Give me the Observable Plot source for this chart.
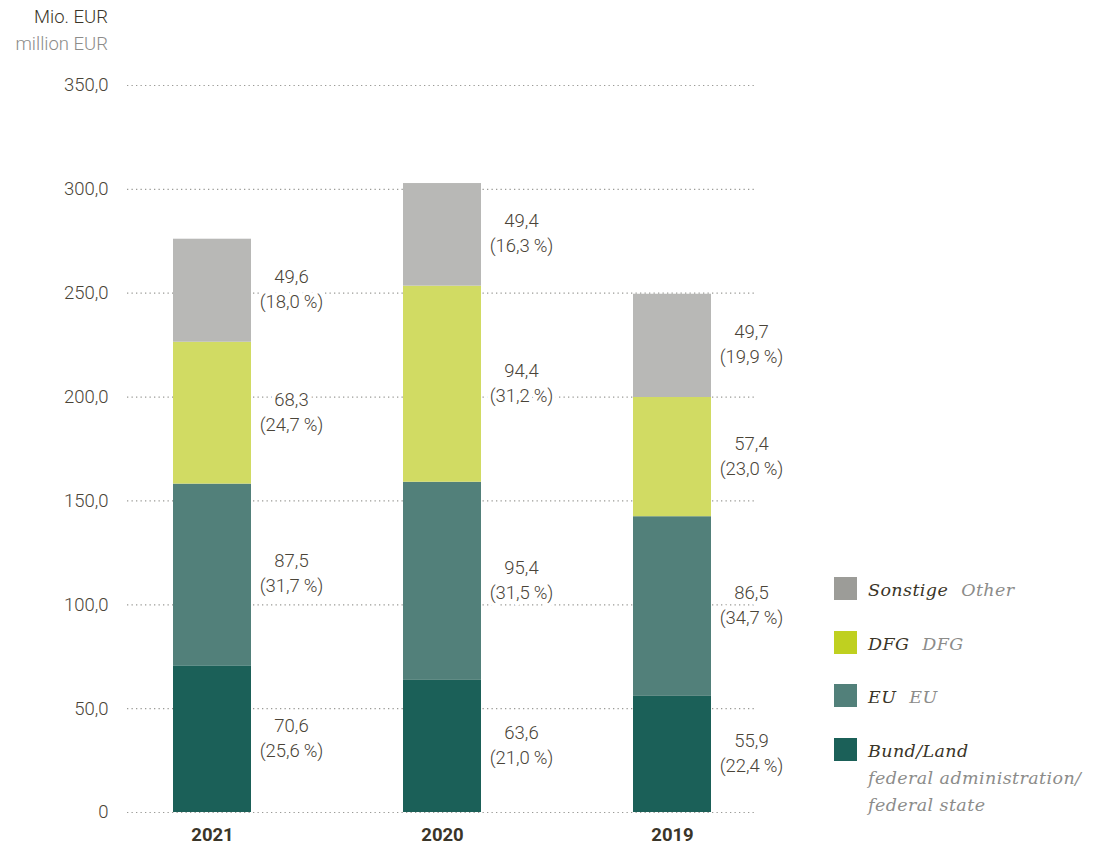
<!DOCTYPE html>
<html>
<head>
<meta charset="utf-8">
<script src="https://cdn.jsdelivr.net/npm/d3@7"></script>
<script src="https://cdn.jsdelivr.net/npm/@observablehq/plot@0.6"></script>
<style>
  body { margin: 0; background: #fff; }
  #wrap { position: relative; width: 1102px; height: 845px; font-family: Roboto, "Noto Sans", sans-serif; }
  #title { position: absolute; right: 994px; top: 4px; text-align: right; font-size: 18.5px; line-height: 27px; font-weight: 300; white-space: nowrap; }
  #title .de { color: #3a3528; }
  #title .en { color: #8c8c8a; }
  #legend { position: absolute; left: 834px; top: 577px; font-family: "DejaVu Serif", serif; font-style: italic; font-size: 17.5px; letter-spacing: 0.4px; }
  .item { position: absolute; left: 0; white-space: nowrap; }
  .sw { position: absolute; left: 0; top: 0; width: 23px; height: 23px; }
  .lab { position: absolute; left: 34px; top: 0px; line-height: 27px; color: #3a3528; }
  .lab .en { color: #8c8c8a; margin-left: 13px; }
  .lab .en2 { color: #8c8c8a; display: block; }
</style>
</head>
<body>
<div id="wrap">
  <div id="title"><div class="de">Mio. EUR</div><div class="en">million EUR</div></div>
  <div id="legend"></div>
</div>
<script>
const years = ["2021", "2020", "2019"];
const categories = ["Bund/Land", "EU", "DFG", "Sonstige"];
const categoriesEn = ["federal administration/\nfederal state", "EU", "DFG", "Other"];
const bund = [70.6, 63.6, 55.9];
const eu = [87.5, 95.4, 86.5];
const dfg = [68.3, 94.4, 57.4];
const sonstige = [49.6, 49.4, 49.7];
const bundPct = [25.6, 21.0, 22.4];
const euPct = [31.7, 31.5, 34.7];
const dfgPct = [24.7, 31.2, 23.0];
const sonstigePct = [18.0, 16.3, 19.9];
const yTicks = [0, 50, 100, 150, 200, 250, 300, 350];
const barColors = ["#1b6058", "#52807a", "#d1db63", "#b8b8b6"];
const swatchColors = ["#1b6058", "#52807a", "#bfd020", "#9c9c98"];

const values = [bund, eu, dfg, sonstige];
const pcts = [bundPct, euPct, dfgPct, sonstigePct];
const fmt = v => d3.format(".1f")(v).replace(".", ",");

const data = [];
years.forEach((yr, i) => {
  categories.forEach((c, k) => {
    data.push({year: yr, cat: c, value: values[k][i], pct: pcts[k][i]});
  });
});

const plot = Plot.plot({
  width: 1102,
  height: 845,
  marginLeft: 127,
  marginRight: 345,
  marginTop: 85,
  marginBottom: 33,
  style: {fontFamily: "Roboto, 'Noto Sans', sans-serif", background: "transparent"},
  x: {domain: years, paddingInner: 0.661, paddingOuter: 0.2, label: null},
  y: {domain: [0, 350], label: null},
  color: {domain: categories, range: barColors},
  marks: [
    Plot.ruleY(yTicks, {stroke: "#9a9a96", strokeDasharray: "1.3,3.2", strokeWidth: 1.2}),
    Plot.barY(data, Plot.stackY({x: "year", y: "value", fill: "cat", z: "cat", order: categories})),
    Plot.text(data, Plot.stackY({
      x: "year", y: "value", z: "cat", order: categories,
      text: d => `${fmt(d.value)}\n(${fmt(d.pct)}\u2009%)`,
      dx: 79, dy: -3, fontSize: 18.5, fontWeight: 300, fill: "#4a4438",
      stroke: "white", strokeWidth: 8, lineHeight: 1.35
    })),
    Plot.axisY({ticks: yTicks, tickSize: 0, tickPadding: 19, fontSize: 18.5, fontWeight: 300, color: "#4a4438",
      tickFormat: d => d === 0 ? "0" : fmt(d)}),
    Plot.axisX({tickSize: 0, tickPadding: 15, fontSize: 18.5, fontWeight: "bold", color: "#3a3528"})
  ]
});
document.getElementById("wrap").prepend(plot);
plot.style.position = "absolute";
plot.style.left = "0";
plot.style.top = "0";

const legend = document.getElementById("legend");
const order = [3, 2, 1, 0];
order.forEach((k, j) => {
  const item = document.createElement("div");
  item.className = "item";
  item.style.top = (j * 53.5) + "px";
  const sw = document.createElement("div");
  sw.className = "sw";
  sw.style.background = swatchColors[k];
  const lab = document.createElement("div");
  lab.className = "lab";
  const de = document.createElement("span");
  de.textContent = categories[k];
  lab.appendChild(de);
  const en = document.createElement("span");
  if (categoriesEn[k].includes("\n")) {
    en.className = "en2";
    en.innerHTML = categoriesEn[k].split("\n").join("<br>");
  } else {
    en.className = "en";
    en.textContent = categoriesEn[k];
  }
  lab.appendChild(en);
  item.appendChild(sw);
  item.appendChild(lab);
  legend.appendChild(item);
});
</script>
</body>
</html>
